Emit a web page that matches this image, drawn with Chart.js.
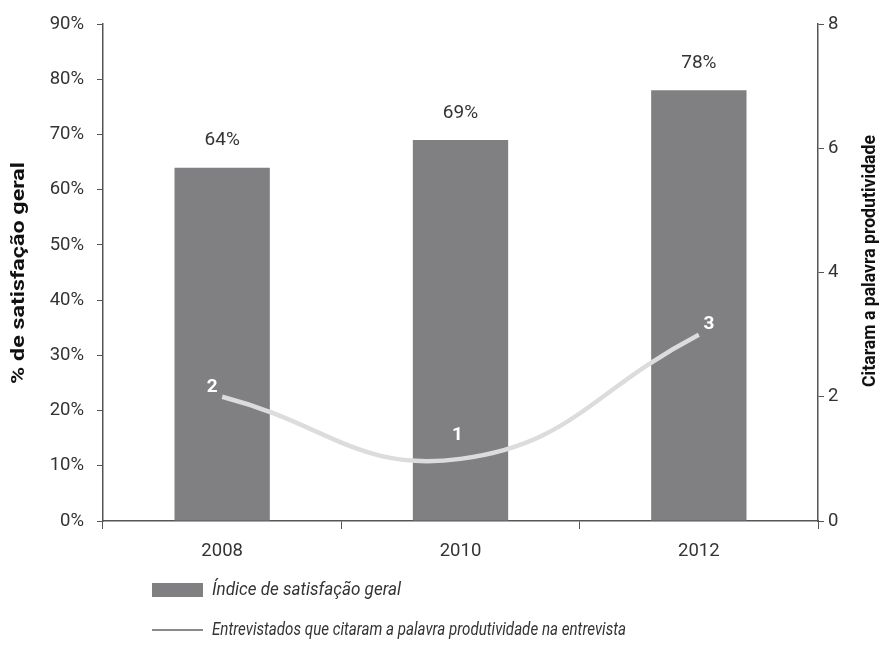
<!DOCTYPE html>
<html>
<head>
<meta charset="utf-8">
<script src="https://cdn.jsdelivr.net/npm/chart.js@4/dist/chart.umd.min.js"></script>
<style>
  html, body { margin: 0; padding: 0; background: #fff; }
  #wrap { width: 879px; height: 648px; position: relative; }
</style>
</head>
<body>
<div id="wrap"><canvas id="chart" width="879" height="648"></canvas></div>
<script>
const years = ['2008', '2010', '2012'];
const satisfacao = [64, 69, 78];
const citaram = [2, 1, 3];
const pctTicks = [0, 10, 20, 30, 40, 50, 60, 70, 80, 90];
const countTicks = [0, 2, 4, 6, 8];

const FONT = 'Roboto, "Liberation Sans", sans-serif';
const barColor = '#808083';
const lineColor = '#dcdcdc';
const legendLineColor = '#8a8a8a';
const textColor = '#333333';

// where the white count labels sit relative to each point
const countLabelShift = [[-10, -10], [-3, -24], [10, -10]];

// draws text squeezed/stretched to a given length, like a condensed face
function fitText(ctx, text, x, y, length) {
  const w = ctx.measureText(text).width;
  ctx.save();
  ctx.translate(x, y);
  ctx.scale(length / w, 1);
  ctx.fillText(text, 0, 0);
  ctx.restore();
}

const extras = {
  id: 'extras',
  afterDatasetsDraw(chart) {
    const ctx = chart.ctx;
    const barMeta = chart.getDatasetMeta(1);
    const lineMeta = chart.getDatasetMeta(0);

    ctx.save();
    ctx.textAlign = 'center';
    ctx.textBaseline = 'middle';

    // percentages above the bars
    ctx.fillStyle = textColor;
    ctx.font = '19px ' + FONT;
    barMeta.data.forEach((bar, i) => {
      ctx.fillText(satisfacao[i] + '%', bar.x, bar.y - 27);
    });

    // counts next to the line points
    ctx.fillStyle = '#ffffff';
    ctx.font = 'bold 19px ' + FONT;
    lineMeta.data.forEach((pt, i) => {
      const s = countLabelShift[i];
      ctx.fillText(String(citaram[i]), pt.x + s[0], pt.y + s[1]);
    });

    // axis titles, both reading bottom to top
    ctx.textAlign = 'left';
    ctx.fillStyle = '#111';
    ctx.font = 'bold 19px ' + FONT;
    ctx.save();
    ctx.translate(19, 384);
    ctx.rotate(-Math.PI / 2);
    fitText(ctx, '% de satisfação geral', 0, 0, 222);
    ctx.restore();
    ctx.save();
    ctx.translate(870, 387);
    ctx.rotate(-Math.PI / 2);
    fitText(ctx, 'Citaram a palavra produtividade', 0, 0, 252);
    ctx.restore();

    // legend
    ctx.font = 'italic 19px ' + FONT;
    ctx.fillStyle = barColor;
    ctx.fillRect(152, 583, 51, 14);
    ctx.fillStyle = textColor;
    fitText(ctx, chart.data.datasets[1].label, 212, 590, 189);

    ctx.strokeStyle = legendLineColor;
    ctx.lineWidth = 2;
    ctx.beginPath();
    ctx.moveTo(152, 630);
    ctx.lineTo(203, 630);
    ctx.stroke();
    fitText(ctx, chart.data.datasets[0].label, 212, 630, 414);
    ctx.restore();
  }
};

new Chart(document.getElementById('chart'), {
  type: 'bar',
  data: {
    labels: years,
    datasets: [
      {
        type: 'line',
        label: 'Entrevistados que citaram a palavra produtividade na entrevista',
        data: citaram,
        yAxisID: 'yCount',
        borderColor: lineColor,
        borderWidth: 4.5,
        tension: 0.45,
        pointRadius: 0,
        fill: false,
        order: 0
      },
      {
        type: 'bar',
        label: 'Índice de satisfação geral',
        data: satisfacao,
        yAxisID: 'yPct',
        backgroundColor: barColor,
        barPercentage: 0.5,
        categoryPercentage: 0.8,
        order: 1
      }
    ]
  },
  options: {
    responsive: false,
    animation: false,
    layout: { padding: { top: 19, left: 0, right: 0, bottom: 0 } },
    plugins: {
      legend: { display: false },
      tooltip: { enabled: false }
    },
    scales: {
      x: {
        offset: true,
        grid: {
          offset: true,
          drawOnChartArea: false,
          drawTicks: true,
          tickLength: 8,
          color: '#555'
        },
        border: { color: '#555', width: 1.5 },
        ticks: { color: textColor, font: { family: FONT, size: 18.5 }, padding: 11 },
        afterFit(scale) { scale.height = 127; }
      },
      yPct: {
        position: 'left',
        min: 0,
        max: 90,
        afterBuildTicks(scale) { scale.ticks = pctTicks.map(v => ({ value: v })); },
        grid: { drawOnChartArea: false, tickLength: 6, color: '#555' },
        border: { color: '#555', width: 1.5 },
        ticks: {
          color: textColor,
          font: { family: FONT, size: 18.5 },
          padding: 13,
          callback: v => v + '%'
        },
        afterFit(scale) { scale.width = 103; }
      },
      yCount: {
        position: 'right',
        min: 0,
        max: 8,
        afterBuildTicks(scale) { scale.ticks = countTicks.map(v => ({ value: v })); },
        grid: { drawOnChartArea: false, tickLength: 6, color: '#555' },
        border: { color: '#555', width: 1.5 },
        ticks: { color: textColor, font: { family: FONT, size: 18.5 }, padding: 4 },
        afterFit(scale) { scale.width = 61; }
      }
    }
  },
  plugins: [extras]
});
</script>
</body>
</html>
